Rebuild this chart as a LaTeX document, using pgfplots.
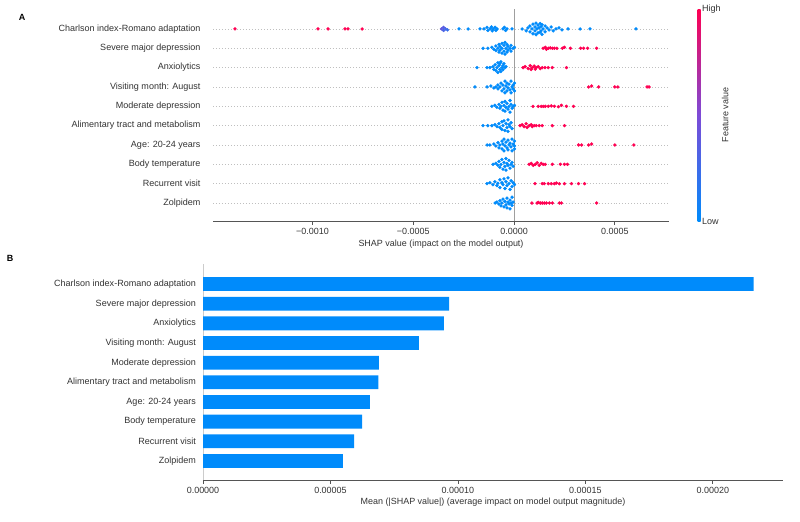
\documentclass[border=0pt]{standalone}
\usepackage{fontspec}
\setmainfont{Liberation Sans}
\usepackage{pgfplots}
\pgfplotsset{compat=1.18}
\definecolor{shapred}{RGB}{255,0,82}
\definecolor{shapblue}{RGB}{0,139,251}
\definecolor{axgray}{RGB}{85,85,85}
\definecolor{txt}{RGB}{51,51,51}
\newcommand{\fnt}{\fontsize{9.05}{10}\selectfont}
\newcommand{\fntb}{\fontsize{9.05}{10}\selectfont}
\newcommand{\fntt}{\fontsize{9}{10}\selectfont}
\begin{document}
\begin{tikzpicture}
\path[use as bounding box] (0bp,0bp) rectangle (800bp,-522bp);
\node[font=\bfseries\fntt] at (22bp,-17bp) {A};
\node[font=\bfseries\fntt] at (10bp,-258bp) {B};
\begin{axis}[
 at={(213bp,-221bp)}, anchor=south west,
 width=456bp, height=212bp, scale only axis,
 xmin=-14.94, xmax=7.69, ymin=-0.93, ymax=10.03,
 axis lines*=left, axis line style={-},
 x axis line style={draw=axgray, line width=0.8pt},
 y axis line style={draw=none},
 xtick={-10,-5,0,5}, xticklabels={−0.0010,−0.0005,0.0000,0.0005},
 scaled x ticks=false,
 xtick align=outside, major tick length=3.5bp,
 xtick style={draw=axgray, line width=0.8pt},
 xticklabel style={font=\fntt, text=txt},
 ytick={0,...,9},
 yticklabels={Zolpidem,Recurrent visit,Body temperature,Age: 20-24 years,Alimentary tract and metabolism,Moderate depression,Visiting month: August,Anxiolytics,Severe major depression,Charlson index-Romano adaptation},
 ytick style={draw=none},
 yticklabel style={font=\fnt, text=txt, xshift=-9bp},
 ymajorgrids, grid style={draw=gray!50, line width=0.4pt, dash pattern=on 0.5pt off 2.5pt},
 xlabel={SHAP value (impact on the model output)},
 xlabel style={font=\fntt, text=txt, yshift=1.5bp},
 colormap={shap}{rgb255=(0,139,251) rgb255=(125,75,215) rgb255=(255,0,82)},
 point meta min=0, point meta max=1,
 colorbar,
 colorbar style={
  at={(parent axis.north east)}, anchor=north west, xshift=20bp,
  width=3bp,
  ytick={0,1}, yticklabels={Low,High},
  ytick style={draw=none},
  axis line style={draw=none},
  yticklabel pos=right,
  yticklabel style={font=\fnt, text=txt, inner sep=1.5pt},
  ylabel={Feature value}, ylabel near ticks,
  ylabel style={font=\fntt, text=txt, yshift=4bp},
 },
]
\addplot[draw=gray!75, line width=0.8pt] coordinates {(0,-0.93) (0,10.03)};
\addplot[scatter, only marks, mark=*, mark size=1.5pt, point meta=explicit,
  scatter/use mapped color={draw=mapped color, fill=mapped color}]
  table[x=x, y=y, meta=c] {
x y c
-13.85 9 1
-9.73 9 1
-9.23 9 1
-8.39 9 1
-8.24 9 1
-7.54 9 1
-3.6 9 0.4
-3.5 9.08 0.35
-3.5 8.92 0.3
-3.4 9 0.28
-3.3 8.95 0.22
-2.73 9 0
-2.28 9 0
-1.69 9 0
-1.49 9 0
-1.34 9.08 0
-1.3 8.92 0
-1.19 9 0
-1.12 9.1 0
-1.08 8.9 0
-1.04 9 0
-0.94 9.08 0
-0.9 8.92 0
-0.84 9 0
-0.55 9 0
-0.48 9.08 0
-0.42 8.92 0
-0.35 9 0
-0.10 9 0
0.40 9 0
0.60 8.9 0
0.69 9.05 0
0.79 9.15 0
0.79 8.85 0
0.89 9 0
0.94 9.25 0
0.94 8.75 0
1.04 9.1 0
1.04 8.9 0
1.09 9.3 0
1.09 8.7 0
1.14 9 0
1.19 9.2 0
1.19 8.8 0
1.24 9.05 0
1.29 9.28 0
1.29 8.82 0
1.34 9.12 0
1.34 8.9 0
1.39 9.22 0
1.39 8.72 0
1.44 9 0
1.54 9.15 0
1.54 8.85 0
1.64 9.05 0
1.74 8.95 0
1.84 9.1 0
1.94 8.9 0
2.08 9 0
2.23 9.05 0
2.38 8.95 0
2.68 9 0
3.28 9 0
3.77 9 0
6.05 9 0
-1.54 8 0
-1.3 8 0
-1.1 8.05 0
-1.0 7.95 0
-0.9 8.12 0
-0.9 7.88 0
-0.8 8 0
-0.75 8.2 0
-0.75 7.8 0
-0.7 8.1 0
-0.7 7.9 0
-0.6 8 0
-0.6 8.25 0
-0.6 7.75 0
-0.5 8.15 0
-0.5 7.85 0
-0.45 8.3 0
-0.45 7.7 0
-0.4 8 0
-0.35 8.2 0
-0.35 7.8 0
-0.3 8.1 0
-0.3 7.9 0
-0.2 8 0
-0.15 8.15 0
-0.15 7.85 0
-0.05 8 0
0.02 8.05 0
1.44 8 1
1.55 8.05 1
1.6 7.95 1
1.7 8 1
1.8 8.02 1
1.9 8 1
2.0 8 1
2.13 8 1
2.4 8 1
2.5 8.05 1
2.8 8 1
3.3 8 1
3.45 8 1
3.65 8 1
4.1 8 1
-1.84 7 0
-1.34 7 0
-1.2 7 0
-1.05 7.05 0
-1.0 6.9 0
-0.94 7.15 0
-0.9 6.85 0
-0.85 7 0
-0.8 7.25 0
-0.8 6.75 0
-0.75 7.1 0
-0.7 6.9 0
-0.7 7.2 0
-0.65 7.3 0
-0.65 6.8 0
-0.6 7 0
-0.55 7.1 0
-0.55 6.9 0
-0.5 7.2 0
-0.45 7 0
-0.4 7.05 0
0.45 7 1
0.55 7.05 1
0.7 6.95 1
0.8 7.1 1
0.85 6.9 1
0.9 7 1
1.0 7.08 1
1.05 6.92 1
1.1 7 1
1.2 7.05 1
1.3 6.95 1
1.4 7 1
1.54 7 1
1.7 7 1
1.9 7 1
2.6 7 1
-1.94 6 0
-1.34 6 0
-1.15 6.05 0
-1.0 5.95 0
-0.9 6 0
-0.8 6.1 0
-0.8 5.9 0
-0.7 6 0
-0.65 6.2 0
-0.6 5.8 0
-0.55 6.1 0
-0.5 5.9 0
-0.45 6.3 0
-0.45 5.7 0
-0.4 6.05 0
-0.35 6.2 0
-0.35 5.8 0
-0.3 5.95 0
-0.25 6.15 0
-0.2 5.85 0
-0.15 6.3 0
-0.15 5.7 0
-0.1 6 0
-0.05 6.1 0
-0.05 5.9 0
0.02 6.2 0
0.02 5.8 0
3.7 6 1
3.85 6.05 1
4.2 6 1
5.0 6 1
5.15 6 1
6.6 6 1
6.7 6 1
-1.1 5 0
-0.95 5.05 0
-0.85 4.95 0
-0.75 5.1 0
-0.7 4.9 0
-0.65 5 0
-0.6 5.2 0
-0.55 4.8 0
-0.5 5.05 0
-0.45 5.25 0
-0.45 4.75 0
-0.4 4.95 0
-0.35 5.15 0
-0.3 4.85 0
-0.25 5 0
-0.2 5.3 0
-0.2 4.7 0
-0.15 5.1 0
-0.1 4.9 0
-0.05 5 0
0.02 5.05 0
0.94 5 1
1.2 5 1
1.35 5 1
1.45 5 1
1.55 5 1
1.7 5 1
1.85 5.02 1
2.0 5 1
2.2 4.98 1
2.35 5.05 1
2.6 5 1
2.95 5 1
-1.54 4 0
-1.3 4 0
-1.1 4 0
-0.95 4.05 0
-0.85 3.95 0
-0.75 4.1 0
-0.7 3.9 0
-0.6 4.2 0
-0.6 3.8 0
-0.55 4 0
-0.5 4.25 0
-0.45 3.75 0
-0.4 4.1 0
-0.35 3.9 0
-0.3 4.3 0
-0.3 3.7 0
-0.25 4.05 0
-0.2 3.95 0
-0.15 4.15 0
-0.1 3.85 0
0.3 4 1
0.4 4.05 1
0.5 3.95 1
0.6 4.1 1
0.65 3.9 1
0.75 4 1
0.85 4.05 1
0.9 3.95 1
1.0 4 1
1.1 4 1
1.25 4 1
1.4 4 1
1.9 4 1
2.5 4 1
-1.34 3 0
-1.2 3 0
-1.0 3.05 0
-0.9 2.95 0
-0.8 3.12 0
-0.75 2.85 0
-0.7 3 0
-0.6 3.2 0
-0.6 2.8 0
-0.55 3.05 0
-0.5 3.3 0
-0.5 2.7 0
-0.45 2.95 0
-0.4 3.15 0
-0.35 2.85 0
-0.3 3.25 0
-0.3 2.75 0
-0.25 3 0
-0.2 3.1 0
-0.15 2.9 0
-0.1 3.3 0
-0.1 2.7 0
-0.05 3.05 0
0.02 2.95 0
0.02 3.2 0
0.02 2.8 0
3.2 3 1
3.35 3 1
3.7 3 1
3.85 3.05 1
5.0 3 1
5.95 3 1
-1.04 2 0
-0.9 2.05 0
-0.8 1.95 0
-0.75 2.15 0
-0.7 1.85 0
-0.65 2 0
-0.6 2.25 0
-0.55 1.75 0
-0.5 2.1 0
-0.45 1.9 0
-0.4 2.3 0
-0.4 1.7 0
-0.35 2.05 0
-0.3 1.95 0
-0.25 2.2 0
-0.2 1.8 0
-0.15 2 0
-0.1 2.1 0
-0.05 1.9 0
0.75 2 1
0.85 2.05 1
0.95 1.95 1
1.05 2 1
1.15 2.08 1
1.25 1.95 1
1.35 2.05 1
1.45 2 1
1.55 2 1
1.9 2 1
2.3 2 1
2.5 2 1
2.65 2 1
-1.34 1 0
-1.2 1.05 0
-1.05 0.95 0
-0.95 1.1 0
-0.85 0.9 0
-0.8 1.02 0
-0.7 1.2 0
-0.7 0.8 0
-0.6 1.05 0
-0.55 0.95 0
-0.5 1.25 0
-0.45 0.75 0
-0.4 1.1 0
-0.35 0.9 0
-0.3 1.3 0
-0.25 1 0
-0.2 0.7 0
-0.15 1.15 0
-0.1 0.85 0
-0.05 1.05 0
0.02 0.95 0
1.04 1 1
1.4 1 1
1.5 1 1
1.7 1 1
1.85 1 1
2.0 1 1
2.1 1.03 1
2.25 1 1
2.5 1 1
2.85 1 1
3.2 1 1
3.5 1 1
-0.94 0 0
-0.85 0.05 0
-0.75 -0.05 0
-0.7 0.12 0
-0.65 -0.15 0
-0.6 0 0
-0.55 0.2 0
-0.5 -0.2 0
-0.45 0.08 0
-0.4 -0.1 0
-0.35 0.25 0
-0.35 -0.25 0
-0.3 0.05 0
-0.25 -0.05 0
-0.2 0.15 0
-0.2 -0.3 0
-0.15 0 0
-0.1 0.3 0
-0.1 -0.12 0
-0.05 0.05 0
0.89 0 1
1.14 0 1
1.2 0.03 1
1.3 0 1
1.4 0 1
1.5 0 1
1.6 0 1
1.75 0 1
1.9 0 1
2.25 0 1
2.35 0 1
4.1 0 1
};
\end{axis}
\begin{axis}[
 at={(203bp,-480bp)}, anchor=south west,
 width=580bp, height=216bp, scale only axis,
 xmin=0, xmax=0.0002275, ymin=-0.97, ymax=10.02,
 xbar, bar width=13.8bp,
 axis lines*=left, axis line style={-},
 x axis line style={draw=axgray, line width=0.8pt},
 y axis line style={draw=gray!40, line width=0.8pt},
 xtick={0,0.00005,0.0001,0.00015,0.0002},
 xticklabels={0.00000,0.00005,0.00010,0.00015,0.00020},
 scaled x ticks=false,
 xtick align=outside, major tick length=3.5bp,
 xtick style={draw=axgray, line width=0.8pt},
 xticklabel style={font=\fntt, text=txt},
 ytick={0,...,9},
 yticklabels={Zolpidem,Recurrent visit,Body temperature,Age: 20-24 years,Alimentary tract and metabolism,Moderate depression,Visiting month: August,Anxiolytics,Severe major depression,Charlson index-Romano adaptation},
 ytick style={draw=none},
 yticklabel style={font=\fntb, text=txt},
 xlabel={Mean (|SHAP value|) (average impact on model output magnitude)},
 xlabel style={font=\fntt, text=txt, yshift=2bp},
]
\addplot[fill=shapblue, draw=none] coordinates {
(0.0000549,0) (0.0000593,1) (0.0000624,2) (0.0000655,3) (0.0000688,4)
(0.0000690,5) (0.0000847,6) (0.0000945,7) (0.0000965,8) (0.000216,9)};
\end{axis}
\end{tikzpicture}
\end{document}
